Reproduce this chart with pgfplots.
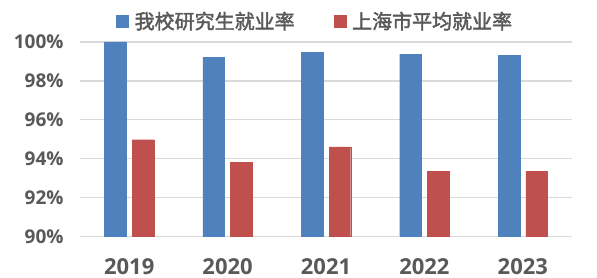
\documentclass[border=0pt]{standalone}
\usepackage{pgfplots}
\pgfplotsset{compat=1.18}
\usepackage{fontspec}
\setmainfont{Open Sans}
\newfontfamily\cjk{Noto Sans CJK SC}[FakeBold=2]
\definecolor{txt}{HTML}{595959}
\definecolor{grd}{HTML}{D9D9D9}
\definecolor{bblue}{HTML}{4F81BD}
\definecolor{bred}{HTML}{C0504D}
\begin{document}
\begin{tikzpicture}
\useasboundingbox (0pt,0pt) rectangle (597pt,278pt);
\begin{axis}[
  at={(80pt,41.7pt)}, anchor=south west,
  scale only axis, width=492pt, height=198.2pt,
  ymin=90, ymax=100.2, xmin=-0.5, xmax=4.5,
  ybar=6pt,
  xtick={0,1,2,3,4}, xticklabels={2019,2020,2021,2022,2023},
  ytick={90,92,...,100},
  yticklabel={\pgfmathprintnumber{\tick}\%},
  /pgf/number format/assume math mode=true,
  axis line style={draw=none},
  major tick style={draw=none},
  ymajorgrids, grid style={draw=grd, line width=1.4pt},
  yticklabel style={font=\bfseries\fontsize{19}{19}\selectfont, text=txt, xshift=-13pt},
  xticklabel style={font=\bfseries\fontsize{22}{22}\selectfont, text=txt, yshift=-14pt},
  legend style={draw=none, fill=none, at={(0.478,1.086)}, anchor=center,
    font=\cjk\fontsize{20}{20}\selectfont, text=txt,
    /tikz/every odd column/.append style={column sep=4pt},
    /tikz/every even column/.append style={column sep=37pt},
    legend cell align=left},
  legend columns=2,
  legend image code/.code={\fill[#1] (0pt,-6.3pt) rectangle (12pt,6.3pt);},
]
\addplot[fill=bblue, draw=bblue, bar width=21.7pt] coordinates {(0,100) (1,99.2) (2,99.48) (3,99.38) (4,99.33)};
\addlegendentry{我校研究生就业率}
\addplot[fill=bred, draw=bred, bar width=21.7pt] coordinates {(0,94.97) (1,93.81) (2,94.6) (3,93.35) (4,93.35)};
\addlegendentry{上海市平均就业率}
\end{axis}
\end{tikzpicture}
\end{document}
